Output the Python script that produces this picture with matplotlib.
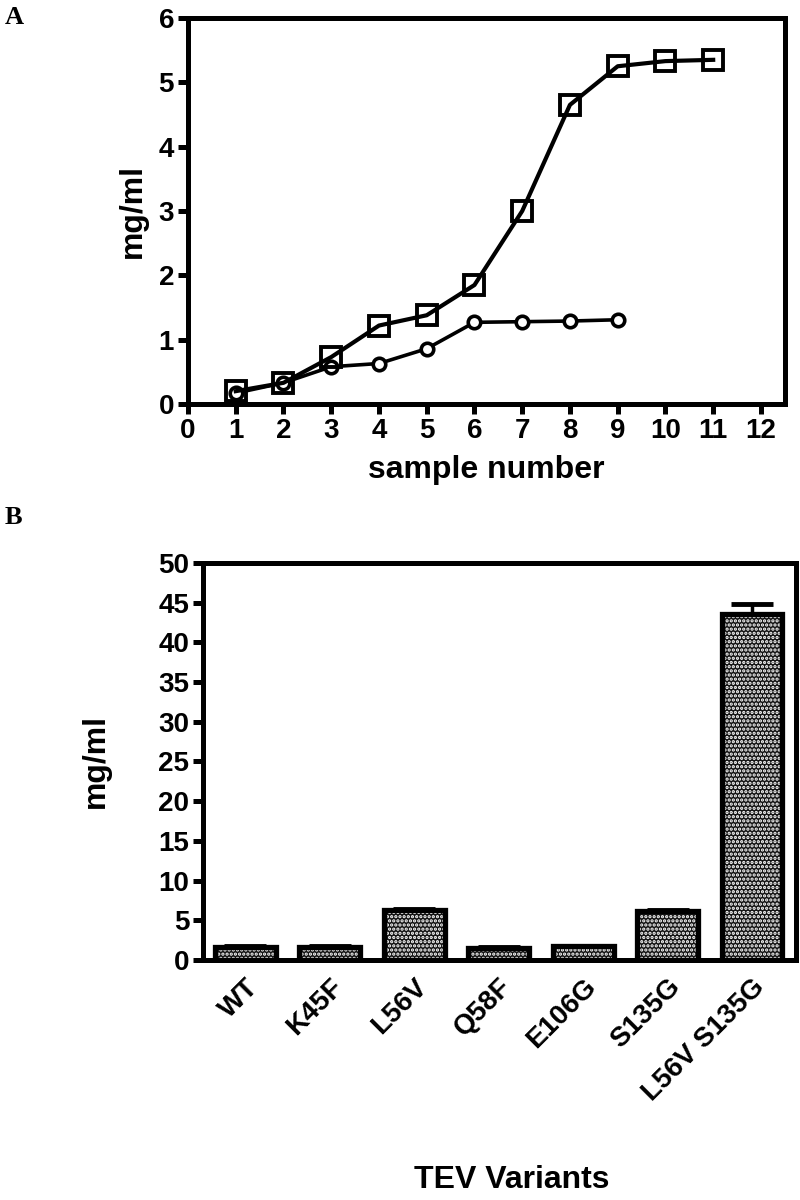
import matplotlib
matplotlib.use("Agg")
import matplotlib.pyplot as plt

# panel A: protein concentration per sample
sample_sq = [1, 2, 3, 4, 5, 6, 7, 8, 9, 10, 11]
conc_sq = [0.20, 0.33, 0.73, 1.22, 1.38, 1.85, 3.00, 4.65, 5.25, 5.33, 5.35]
sample_ci = [1, 2, 3, 4, 5, 6, 7, 8, 9]
conc_ci = [0.17, 0.33, 0.58, 0.63, 0.86, 1.27, 1.28, 1.29, 1.31]

# panel B: TEV variants
variants = ["WT", "K45F", "L56V", "Q58F", "E106G", "S135G", "L56V S135G"]
variant_conc = [1.6, 1.6, 6.3, 1.5, 1.7, 6.2, 43.5]
variant_err = [0.1, 0.1, 0.15, 0.1, 0.1, 0.15, 1.3]

fam = ["Liberation Sans Narrow", "Liberation Sans", "DejaVu Sans"]
plt.rcParams["font.family"] = fam
plt.rcParams["font.weight"] = "bold"
plt.rcParams["hatch.color"] = "white"
plt.rcParams["hatch.linewidth"] = 1.6

fig = plt.figure(figsize=(8, 12), dpi=100)

SPINE = 3.6


def style_axes(ax, size=20):
    for s in ax.spines.values():
        s.set_linewidth(SPINE)
    ax.tick_params(width=SPINE, length=7, direction="out", labelsize=size, pad=3)
    for lab in ax.get_xticklabels() + ax.get_yticklabels():
        lab.set_fontweight("bold")


# ---- panel A ----
axA = fig.add_axes([0.235, 0.6633, 0.746, 0.3217])
axA.plot(sample_ci, conc_ci, color="black", lw=2.6, marker="o", ms=9,
         mfc="white", mec="black", mew=2.6, zorder=3)
axA.plot(sample_sq, conc_sq, color="black", lw=3.0, marker="s", ms=15,
         mfc="none", mec="black", mew=2.8, zorder=4)
axA.set_xlim(0, 12.5)
axA.set_ylim(0, 6)
axA.set_xticks(range(0, 13))
axA.set_yticks(range(0, 7))
style_axes(axA)
axA.set_xlabel("sample number", fontsize=23, fontweight="bold", labelpad=8)
axA.set_ylabel("mg/ml", fontsize=23, fontweight="bold", labelpad=8)

# ---- panel B ----
axB = fig.add_axes([0.254, 0.2, 0.741, 0.331])
xs = list(range(len(variants)))
axB.bar(xs, variant_conc, width=0.72, color="0.08", linewidth=0, zorder=2)
axB.bar(xs, variant_conc, width=0.72, color="none", hatch="....",
        linewidth=0, zorder=3)
axB.bar(xs, variant_conc, width=0.72, color="none", edgecolor="black",
        linewidth=3.8, zorder=4)
axB.errorbar(xs, variant_conc, yerr=[[0] * len(variants), variant_err],
             fmt="none", ecolor="black", elinewidth=2.5, capsize=15,
             capthick=3.5, zorder=5)
axB.set_xlim(-0.5, 6.52)
axB.set_ylim(0, 50)
axB.set_yticks(range(0, 51, 5))
axB.set_xticks(xs)
axB.set_xticklabels(variants, rotation=45, ha="right", rotation_mode="anchor")
style_axes(axB)
axB.tick_params(axis="x", length=0, pad=10)
axB.set_ylabel("mg/ml", fontsize=23, fontweight="bold", labelpad=34)
fig.text(0.64, 0.004, "TEV Variants", fontsize=23, fontweight="bold",
         ha="center", va="bottom")

# panel letters
fig.text(0.006, 0.985, "A", fontsize=19, fontweight="bold",
         family="Liberation Serif", va="center")
fig.text(0.006, 0.569, "B", fontsize=19, fontweight="bold",
         family="Liberation Serif", va="center")

fig.savefig("out.png", dpi=100)
